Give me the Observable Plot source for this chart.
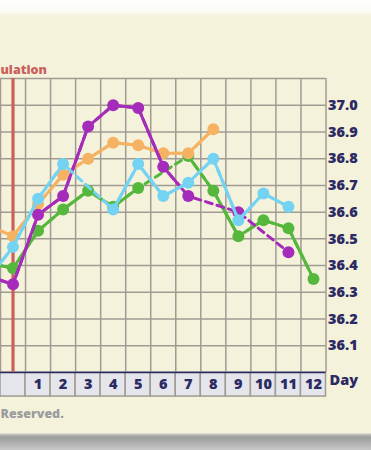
<!DOCTYPE html>
<html><head><meta charset="utf-8">
<script src="https://cdn.jsdelivr.net/npm/d3@7"></script>
<script src="https://cdn.jsdelivr.net/npm/@observablehq/plot@0.6"></script>
<style>
html,body{margin:0;padding:0;}
body{width:371px;height:450px;overflow:hidden;background:linear-gradient(to bottom,#fefefe 0px,#fbfbf7 11px,#f5f2dc 16px,#f5f2dc 433px,#c6c6c2 434px,#9b9b9b 437px,#b4b4b4 444px,#c8c8c8 450px);}
#chart svg{display:block;}
</style></head><body><div id="chart"></div>
<script>
// Cycle days (day -1 lies just outside the cropped view)
const days = [-1, 0, 1, 2, 3, 4, 5, 6, 7, 8, 9, 10, 11, 12];
const dayTicks = [1, 2, 3, 4, 5, 6, 7, 8, 9, 10, 11, 12];
const tempTicks = [36.1, 36.2, 36.3, 36.4, 36.5, 36.6, 36.7, 36.8, 36.9, 37.0];
const gridTemps = [36.1, 36.2, 36.3, 36.4, 36.5, 36.6, 36.7, 36.8, 36.9, 37.0, 37.1];
const ovulationDay = 0;
const ovulationLabel = "ulation";
const footerLabel = "Reserved.";

// Temperature series (null = no reading)
const greenTemps  = [36.41, 36.39, 36.53, 36.61, 36.68, 36.62, 36.69, null, 36.81, 36.68, 36.51, 36.57, 36.54, 36.35];
const orangeTemps = [36.55, 36.51, 36.63, 36.74, 36.80, 36.86, 36.85, 36.82, 36.82, 36.91, null, null, null, null];
const purpleTemps = [36.36, 36.33, 36.59, 36.66, 36.92, 37.00, 36.99, 36.77, 36.66, null, 36.60, null, 36.45, null];
const blueTemps   = [36.35, 36.47, 36.65, 36.78, null, 36.61, 36.78, 36.66, 36.71, 36.80, 36.57, 36.67, 36.62, null];

const seriesList = [
  {name: "green", color: "#55b83c", temps: greenTemps},
  {name: "orange", color: "#f5b262", temps: orangeTemps},
  {name: "purple", color: "#a52bbb", temps: purpleTemps},
  {name: "blue", color: "#74d3f3", temps: blueTemps}
];

const navy = "#2b2a63";
const gridColor = "#a09b92";
const font = "'Open Sans', sans-serif";

const cells = d3.range(-1, 13);
const marks = [
  Plot.rect(cells, {x1: d => d - 0.5, x2: d => d + 0.5, y1: 35.91, y2: 36.0, fill: "#e5e5ec", stroke: gridColor, strokeWidth: 1.5}),
  Plot.gridY({ticks: gridTemps, stroke: gridColor, strokeOpacity: 1, strokeWidth: 1.5}),
  Plot.gridX({ticks: d3.range(-0.5, 13, 1), stroke: gridColor, strokeOpacity: 1, strokeWidth: 1.5}),
  Plot.ruleY([36.0], {stroke: navy, strokeWidth: 1.5}),
  Plot.ruleX([ovulationDay], {y1: 36.0, y2: 37.1, stroke: "#c9615a", strokeWidth: 3.2})
];

for (const s of seriesList) {
  const rows = days.map((d, i) => ({day: d, t: s.temps[i]}));
  const defined = rows.filter(r => r.t != null);
  marks.push(Plot.line(defined, {x: "day", y: "t", stroke: s.color, strokeWidth: 3, strokeDasharray: "7,5"}));
  marks.push(Plot.line(rows, {x: "day", y: "t", stroke: s.color, strokeWidth: 3}));
  marks.push(Plot.dot(defined, {x: "day", y: "t", r: 6, fill: s.color}));
}

marks.push(
  Plot.axisY({anchor: "right", ticks: tempTicks, tickFormat: d3.format(".1f"), tickSize: 0, tickPadding: 2, fontSize: 14.5, fontWeight: 800, fill: navy, label: null}),
  Plot.axisX({anchor: "bottom", ticks: dayTicks, tickFormat: d => String(d), tickSize: 0, tickPadding: 6.5, fontSize: 14.5, fontWeight: 800, fill: navy, label: null}),
  Plot.text(["Day"], {text: d => d, frameAnchor: "bottom-right", textAnchor: "start", dx: 3.5, dy: 12, fontSize: 14.5, fontWeight: 800, fill: navy}),
  Plot.text([ovulationLabel], {text: d => d, frameAnchor: "top-left", textAnchor: "start", dx: 0, dy: -13, fontSize: 12.5, fontWeight: 800, fill: "#c9615a"}),
  Plot.text([footerLabel], {text: d => d, frameAnchor: "bottom-left", textAnchor: "start", dx: 0, dy: 45, fontSize: 12.5, fontWeight: 800, fill: "#9c9c9c"})
);

const chart = Plot.plot({
  width: 371,
  height: 450,
  marginTop: 78,
  marginBottom: 78,
  marginLeft: 0,
  marginRight: 45.5,
  x: {domain: [-0.5, 12.5], axis: null},
  y: {domain: [36.0, 37.1], axis: null},
  style: {background: "transparent", fontFamily: font, color: navy, overflow: "hidden"},
  marks
});
document.getElementById("chart").appendChild(chart);
</script>
</body></html>
